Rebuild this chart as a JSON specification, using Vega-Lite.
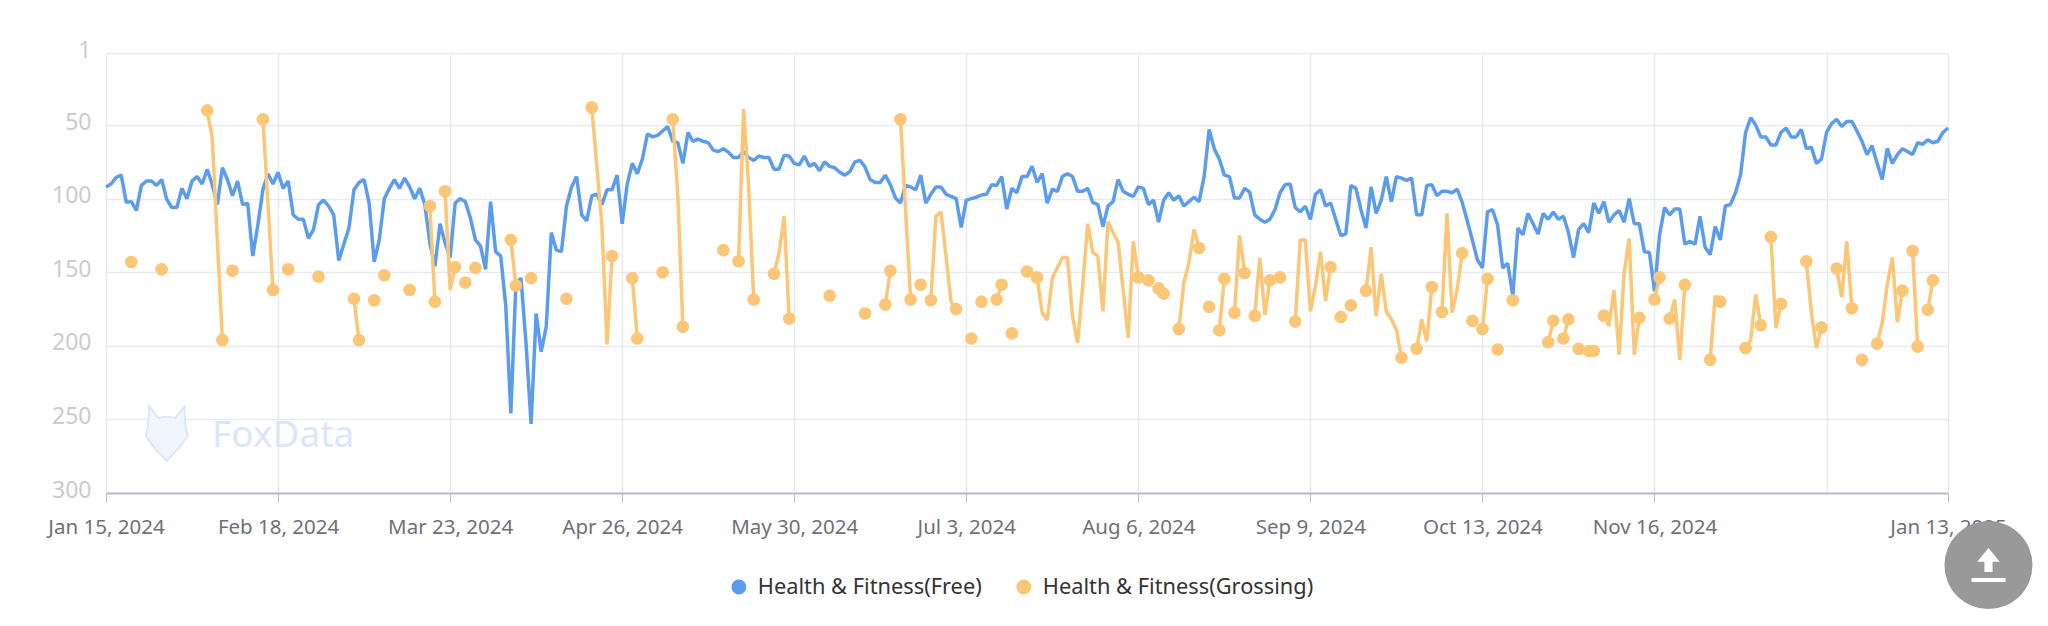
{"$schema":"https://vega.github.io/schema/vega-lite/v6.json","width":1842,"height":440,"autosize":{"type":"none"},"padding":{"left":106,"top":53,"right":100,"bottom":133},"background":"#ffffff","config":{"font":"Noto Sans","view":{"stroke":null}},"datasets":{"ranks":[
{"date":"2024-01-15","free":92},{"date":"2024-01-16","free":90},{"date":"2024-01-17","free":85.5},{"date":"2024-01-18","free":84},{"date":"2024-01-19","free":102.5},{"date":"2024-01-20","free":102,"grossing":143},{"date":"2024-01-21","free":108},{"date":"2024-01-22","free":91},{"date":"2024-01-23","free":88},{"date":"2024-01-24","free":88},{"date":"2024-01-25","free":91},{"date":"2024-01-26","free":87,"grossing":148},{"date":"2024-01-27","free":100.5},{"date":"2024-01-28","free":106},{"date":"2024-01-29","free":106},{"date":"2024-01-30","free":93},{"date":"2024-01-31","free":100},
{"date":"2024-02-01","free":88},{"date":"2024-02-02","free":85},{"date":"2024-02-03","free":90},{"date":"2024-02-04","free":80,"grossing":40},{"date":"2024-02-05","free":90.5,"grossing":59},{"date":"2024-02-06","free":104,"grossing":128},{"date":"2024-02-07","free":79,"grossing":196},{"date":"2024-02-08","free":87},{"date":"2024-02-09","free":98,"grossing":149},{"date":"2024-02-10","free":88},{"date":"2024-02-11","free":104},{"date":"2024-02-12","free":103},{"date":"2024-02-13","free":139},{"date":"2024-02-14","free":118},{"date":"2024-02-15","free":94,"grossing":46},{"date":"2024-02-16","free":83,"grossing":103},{"date":"2024-02-17","free":90,"grossing":162},{"date":"2024-02-18","free":82},{"date":"2024-02-19","free":93},{"date":"2024-02-20","free":88,"grossing":148},{"date":"2024-02-21","free":111},{"date":"2024-02-22","free":114},{"date":"2024-02-23","free":114},{"date":"2024-02-24","free":127},{"date":"2024-02-25","free":121},{"date":"2024-02-26","free":104,"grossing":153},{"date":"2024-02-27","free":101},{"date":"2024-02-28","free":105},{"date":"2024-02-29","free":111},
{"date":"2024-03-01","free":142},{"date":"2024-03-02","free":131},{"date":"2024-03-03","free":120},{"date":"2024-03-04","free":94,"grossing":168},{"date":"2024-03-05","free":89,"grossing":196},{"date":"2024-03-06","free":87},{"date":"2024-03-07","free":103},{"date":"2024-03-08","free":143,"grossing":169},{"date":"2024-03-09","free":128},{"date":"2024-03-10","free":100,"grossing":152},{"date":"2024-03-11","free":93},{"date":"2024-03-12","free":87},{"date":"2024-03-13","free":93},{"date":"2024-03-14","free":86},{"date":"2024-03-15","free":92,"grossing":162},{"date":"2024-03-16","free":100},{"date":"2024-03-17","free":93},{"date":"2024-03-18","free":104},{"date":"2024-03-19","free":130,"grossing":105},{"date":"2024-03-20","free":146,"grossing":170},{"date":"2024-03-21","free":117},{"date":"2024-03-22","free":130,"grossing":95},{"date":"2024-03-23","free":140,"grossing":162},{"date":"2024-03-24","free":103,"grossing":146.5},{"date":"2024-03-25","free":100},{"date":"2024-03-26","free":102,"grossing":157},{"date":"2024-03-27","free":113},{"date":"2024-03-28","free":128,"grossing":147},{"date":"2024-03-29","free":132},{"date":"2024-03-30","free":148},{"date":"2024-03-31","free":102},
{"date":"2024-04-01","free":136},{"date":"2024-04-02","free":139},{"date":"2024-04-03","free":173},{"date":"2024-04-04","free":246,"grossing":128},{"date":"2024-04-05","free":158,"grossing":159},{"date":"2024-04-06","free":154},{"date":"2024-04-07","free":198},{"date":"2024-04-08","free":253,"grossing":154},{"date":"2024-04-09","free":178},{"date":"2024-04-10","free":204},{"date":"2024-04-11","free":187},{"date":"2024-04-12","free":123},{"date":"2024-04-13","free":135},{"date":"2024-04-14","free":136},{"date":"2024-04-15","free":105,"grossing":168},{"date":"2024-04-16","free":92},{"date":"2024-04-17","free":85},{"date":"2024-04-18","free":111},{"date":"2024-04-19","free":115},{"date":"2024-04-20","free":98,"grossing":38},{"date":"2024-04-21","free":97,"grossing":78},{"date":"2024-04-22","free":104,"grossing":118},{"date":"2024-04-23","free":94,"grossing":199},{"date":"2024-04-24","free":94,"grossing":139},{"date":"2024-04-25","free":84},{"date":"2024-04-26","free":117},{"date":"2024-04-27","free":90},{"date":"2024-04-28","free":76,"grossing":154},{"date":"2024-04-29","free":83,"grossing":195},{"date":"2024-04-30","free":73},
{"date":"2024-05-01","free":56},{"date":"2024-05-02","free":58},{"date":"2024-05-03","free":57},{"date":"2024-05-04","free":54,"grossing":150},{"date":"2024-05-05","free":51},{"date":"2024-05-06","free":61,"grossing":46},{"date":"2024-05-07","free":62,"grossing":98},{"date":"2024-05-08","free":76,"grossing":187},{"date":"2024-05-09","free":55},{"date":"2024-05-10","free":61},{"date":"2024-05-11","free":59.5},{"date":"2024-05-12","free":61},{"date":"2024-05-13","free":62},{"date":"2024-05-14","free":67},{"date":"2024-05-15","free":68},{"date":"2024-05-16","free":66,"grossing":135},{"date":"2024-05-17","free":68.5},{"date":"2024-05-18","free":72},{"date":"2024-05-19","free":72,"grossing":142.5},{"date":"2024-05-20","free":68,"grossing":39},{"date":"2024-05-21","free":72,"grossing":92},{"date":"2024-05-22","free":74,"grossing":168.5},{"date":"2024-05-23","free":71},{"date":"2024-05-24","free":72},{"date":"2024-05-25","free":72},{"date":"2024-05-26","free":80,"grossing":151},{"date":"2024-05-27","free":80,"grossing":137},{"date":"2024-05-28","free":70.5,"grossing":112},{"date":"2024-05-29","free":71,"grossing":181.5},{"date":"2024-05-30","free":76},{"date":"2024-05-31","free":77},
{"date":"2024-06-01","free":71},{"date":"2024-06-02","free":78},{"date":"2024-06-03","free":76},{"date":"2024-06-04","free":81},{"date":"2024-06-05","free":75},{"date":"2024-06-06","free":78,"grossing":166},{"date":"2024-06-07","free":79},{"date":"2024-06-08","free":82},{"date":"2024-06-09","free":84},{"date":"2024-06-10","free":81.5},{"date":"2024-06-11","free":75},{"date":"2024-06-12","free":74},{"date":"2024-06-13","free":78.5,"grossing":178},{"date":"2024-06-14","free":87},{"date":"2024-06-15","free":89},{"date":"2024-06-16","free":89},{"date":"2024-06-17","free":84,"grossing":172},{"date":"2024-06-18","free":90.5,"grossing":149},{"date":"2024-06-19","free":99.5},{"date":"2024-06-20","free":103,"grossing":46},{"date":"2024-06-21","free":91,"grossing":107.5},{"date":"2024-06-22","free":92,"grossing":168.5},{"date":"2024-06-23","free":94},{"date":"2024-06-24","free":84,"grossing":158.5},{"date":"2024-06-25","free":103},{"date":"2024-06-26","free":97,"grossing":169},{"date":"2024-06-27","free":92,"grossing":112},{"date":"2024-06-28","free":92,"grossing":109},{"date":"2024-06-29","free":97,"grossing":139},{"date":"2024-06-30","free":98.5,"grossing":170},
{"date":"2024-07-01","free":100,"grossing":175},{"date":"2024-07-02","free":119.5},{"date":"2024-07-03","free":101},{"date":"2024-07-04","free":100,"grossing":195},{"date":"2024-07-05","free":99},{"date":"2024-07-06","free":97.5,"grossing":170},{"date":"2024-07-07","free":97},{"date":"2024-07-08","free":90.5},{"date":"2024-07-09","free":91,"grossing":168.5},{"date":"2024-07-10","free":85,"grossing":158.5},{"date":"2024-07-11","free":107},{"date":"2024-07-12","free":93,"grossing":191.5},{"date":"2024-07-13","free":96},{"date":"2024-07-14","free":85},{"date":"2024-07-15","free":85,"grossing":149.5},{"date":"2024-07-16","free":78},{"date":"2024-07-17","free":89,"grossing":153.5},{"date":"2024-07-18","free":83,"grossing":177.5},{"date":"2024-07-19","free":103,"grossing":182.5},{"date":"2024-07-20","free":93.5,"grossing":154},{"date":"2024-07-21","free":95,"grossing":147},{"date":"2024-07-22","free":85,"grossing":140},{"date":"2024-07-23","free":83,"grossing":140},{"date":"2024-07-24","free":85,"grossing":180},{"date":"2024-07-25","free":95,"grossing":198},{"date":"2024-07-26","free":95,"grossing":159.5},{"date":"2024-07-27","free":93,"grossing":117},{"date":"2024-07-28","free":102.5,"grossing":136.5},{"date":"2024-07-29","free":104,"grossing":139},{"date":"2024-07-30","free":119,"grossing":176.5},{"date":"2024-07-31","free":105,"grossing":115.5},
{"date":"2024-08-01","free":102,"grossing":123},{"date":"2024-08-02","free":87,"grossing":129.5},{"date":"2024-08-03","free":95,"grossing":162},{"date":"2024-08-04","free":97,"grossing":194.5},{"date":"2024-08-05","free":98.5,"grossing":129},{"date":"2024-08-06","free":92,"grossing":153.5},{"date":"2024-08-07","free":93},{"date":"2024-08-08","free":104,"grossing":155.5},{"date":"2024-08-09","free":101},{"date":"2024-08-10","free":116,"grossing":161},{"date":"2024-08-11","free":101,"grossing":164.5},{"date":"2024-08-12","free":96},{"date":"2024-08-13","free":101},{"date":"2024-08-14","free":98,"grossing":188.5},{"date":"2024-08-15","free":105,"grossing":157},{"date":"2024-08-16","free":102,"grossing":143.5},{"date":"2024-08-17","free":99,"grossing":121},{"date":"2024-08-18","free":102,"grossing":133.5},{"date":"2024-08-19","free":85},{"date":"2024-08-20","free":53,"grossing":173.5},{"date":"2024-08-21","free":66},{"date":"2024-08-22","free":73,"grossing":189.5},{"date":"2024-08-23","free":84,"grossing":154.5},{"date":"2024-08-24","free":85},{"date":"2024-08-25","free":99.5,"grossing":177.5},{"date":"2024-08-26","free":99.5,"grossing":125},{"date":"2024-08-27","free":93,"grossing":150.5},{"date":"2024-08-28","free":95.5},{"date":"2024-08-29","free":111,"grossing":179.5},{"date":"2024-08-30","free":114,"grossing":140},{"date":"2024-08-31","free":116,"grossing":179},
{"date":"2024-09-01","free":114,"grossing":155.5},{"date":"2024-09-02","free":107.5},{"date":"2024-09-03","free":96,"grossing":153.5},{"date":"2024-09-04","free":90.5},{"date":"2024-09-05","free":90},{"date":"2024-09-06","free":106,"grossing":183.5},{"date":"2024-09-07","free":109,"grossing":128},{"date":"2024-09-08","free":105,"grossing":128},{"date":"2024-09-09","free":114,"grossing":176.5},{"date":"2024-09-10","free":97,"grossing":159.5},{"date":"2024-09-11","free":94,"grossing":136},{"date":"2024-09-12","free":105,"grossing":169.5},{"date":"2024-09-13","free":103,"grossing":146.5},{"date":"2024-09-14","free":114},{"date":"2024-09-15","free":125,"grossing":180.5},{"date":"2024-09-16","free":124},{"date":"2024-09-17","free":91,"grossing":172.5},{"date":"2024-09-18","free":93},{"date":"2024-09-19","free":107.5},{"date":"2024-09-20","free":120,"grossing":162.5},{"date":"2024-09-21","free":92,"grossing":133},{"date":"2024-09-22","free":110,"grossing":180},{"date":"2024-09-23","free":101,"grossing":151},{"date":"2024-09-24","free":85,"grossing":176.5},{"date":"2024-09-25","free":102,"grossing":182},{"date":"2024-09-26","free":85,"grossing":189},{"date":"2024-09-27","free":86,"grossing":208},{"date":"2024-09-28","free":87.5},{"date":"2024-09-29","free":86},{"date":"2024-09-30","free":111,"grossing":202},
{"date":"2024-10-01","free":111,"grossing":182},{"date":"2024-10-02","free":91,"grossing":197},{"date":"2024-10-03","free":90.5,"grossing":160},{"date":"2024-10-04","free":98},{"date":"2024-10-05","free":95,"grossing":177},{"date":"2024-10-06","free":95,"grossing":110},{"date":"2024-10-07","free":96,"grossing":177.5},{"date":"2024-10-08","free":93.5,"grossing":162},{"date":"2024-10-09","free":102.5,"grossing":137},{"date":"2024-10-10","free":115},{"date":"2024-10-11","free":128,"grossing":183},{"date":"2024-10-12","free":141.5},{"date":"2024-10-13","free":147,"grossing":188.5},{"date":"2024-10-14","free":109,"grossing":154.5},{"date":"2024-10-15","free":107.5},{"date":"2024-10-16","free":118,"grossing":202.5},{"date":"2024-10-17","free":147},{"date":"2024-10-18","free":144},{"date":"2024-10-19","free":166,"grossing":169},{"date":"2024-10-20","free":120},{"date":"2024-10-21","free":124.5},{"date":"2024-10-22","free":110},{"date":"2024-10-23","free":117},{"date":"2024-10-24","free":124},{"date":"2024-10-25","free":110},{"date":"2024-10-26","free":114,"grossing":197.5},{"date":"2024-10-27","free":109,"grossing":183},{"date":"2024-10-28","free":114},{"date":"2024-10-29","free":112,"grossing":195},{"date":"2024-10-30","free":123,"grossing":182},{"date":"2024-10-31","free":140},
{"date":"2024-11-01","free":121,"grossing":202},{"date":"2024-11-02","free":117},{"date":"2024-11-03","free":123,"grossing":203.5},{"date":"2024-11-04","free":103,"grossing":203.5},{"date":"2024-11-05","free":110},{"date":"2024-11-06","free":102,"grossing":179.5},{"date":"2024-11-07","free":116,"grossing":186.5},{"date":"2024-11-08","free":111,"grossing":162},{"date":"2024-11-09","free":108,"grossing":206},{"date":"2024-11-10","free":116,"grossing":150.5},{"date":"2024-11-11","free":100,"grossing":127},{"date":"2024-11-12","free":117,"grossing":206},{"date":"2024-11-13","free":117,"grossing":181},{"date":"2024-11-14","free":136},{"date":"2024-11-15","free":136.5},{"date":"2024-11-16","free":163,"grossing":168.5},{"date":"2024-11-17","free":124.5,"grossing":153.5},{"date":"2024-11-18","free":106},{"date":"2024-11-19","free":111,"grossing":181.5},{"date":"2024-11-20","free":107,"grossing":168.5},{"date":"2024-11-21","free":107,"grossing":209.5},{"date":"2024-11-22","free":131,"grossing":158.5},{"date":"2024-11-23","free":129},{"date":"2024-11-24","free":131},{"date":"2024-11-25","free":112},{"date":"2024-11-26","free":133},{"date":"2024-11-27","free":138,"grossing":209.5},{"date":"2024-11-28","free":119,"grossing":166},{"date":"2024-11-29","free":128,"grossing":170},{"date":"2024-11-30","free":105},
{"date":"2024-12-01","free":104},{"date":"2024-12-02","free":96},{"date":"2024-12-03","free":84},{"date":"2024-12-04","free":55,"grossing":201.5},{"date":"2024-12-05","free":45,"grossing":196},{"date":"2024-12-06","free":50,"grossing":165},{"date":"2024-12-07","free":58,"grossing":186},{"date":"2024-12-08","free":58},{"date":"2024-12-09","free":63.5,"grossing":126},{"date":"2024-12-10","free":63.5,"grossing":188},{"date":"2024-12-11","free":55,"grossing":171.5},{"date":"2024-12-12","free":52},{"date":"2024-12-13","free":58},{"date":"2024-12-14","free":58},{"date":"2024-12-15","free":53},{"date":"2024-12-16","free":66,"grossing":142.5},{"date":"2024-12-17","free":65,"grossing":177.5},{"date":"2024-12-18","free":76,"grossing":201.5},{"date":"2024-12-19","free":73,"grossing":187.5},{"date":"2024-12-20","free":55},{"date":"2024-12-21","free":49},{"date":"2024-12-22","free":46,"grossing":147.5},{"date":"2024-12-23","free":51,"grossing":167},{"date":"2024-12-24","free":47.5,"grossing":129},{"date":"2024-12-25","free":47.5,"grossing":174.5},{"date":"2024-12-26","free":54},{"date":"2024-12-27","free":61,"grossing":209.5},{"date":"2024-12-28","free":70},{"date":"2024-12-29","free":64},{"date":"2024-12-30","free":76,"grossing":198.5},{"date":"2024-12-31","free":87,"grossing":184.5},
{"date":"2025-01-01","free":66,"grossing":158.5},{"date":"2025-01-02","free":76,"grossing":140},{"date":"2025-01-03","free":70,"grossing":184},{"date":"2025-01-04","free":66,"grossing":162.5},{"date":"2025-01-05","free":68},{"date":"2025-01-06","free":70,"grossing":135.5},{"date":"2025-01-07","free":62,"grossing":200.5},{"date":"2025-01-08","free":63},{"date":"2025-01-09","free":60,"grossing":175.5},{"date":"2025-01-10","free":62,"grossing":155.5},{"date":"2025-01-11","free":61},{"date":"2025-01-12","free":55},{"date":"2025-01-13","free":52}
]},
"layer":[
{"data":{"values":[{"date":"2024-01-27","rank":260}]},"mark":{"type":"point","shape":"M-0.42,-0.66 L-0.2,-0.38 Q0,-0.45 0.2,-0.38 L0.42,-0.66 L0.45,-0.15 L0.5,0.04 L0.3,0.32 L0,0.64 L-0.3,0.32 L-0.5,0.04 L-0.45,-0.15 Z","size":7056,"filled":true,"fill":"#f0f5fe","stroke":"#dbe6fb","strokeWidth":2,"opacity":1},"encoding":{"x":{"field":"date","type":"temporal"},"y":{"field":"rank","type":"quantitative"}}},
{"data":{"values":[{"date":"2024-02-19","rank":261,"label":"FoxData"}]},"mark":{"type":"text","fontSize":37,"color":"#dbe6fb","align":"center","baseline":"middle"},"encoding":{"x":{"field":"date","type":"temporal"},"y":{"field":"rank","type":"quantitative"},"text":{"field":"label"}}},
{"data":{"name":"ranks"},"mark":{"type":"line","strokeWidth":3.5,"strokeJoin":"bevel"},"encoding":{"x":{"field":"date","type":"temporal","scale":{"type":"utc","domain":["2024-01-15","2025-01-13"]},"title":null,"axis":{"values":["2024-01-15","2024-02-18","2024-03-23","2024-04-26","2024-05-30","2024-07-03","2024-08-06","2024-09-09","2024-10-13","2024-11-16","2024-12-20","2025-01-13"],"format":"%b %-d, %Y","labelExpr":"datum.label == 'Dec 20, 2024' ? '' : datum.label","labelFontSize":20.5,"labelColor":"#6e7079","labelOverlap":false,"labelFlush":false,"labelPadding":15,"labelAngle":0,"tickSize":9,"tickColor":"#b6bec9","tickWidth":1,"tickOpacity":{"condition":{"test":"utcmonth(datum.value) == 11","value":0},"value":1},"domainColor":"#b6bec9","domainWidth":2,"grid":true,"gridColor":"#e8eaef","gridWidth":1.5}},"y":{"field":"free","type":"quantitative","scale":{"domain":[1,300],"reverse":true,"nice":false,"zero":false},"title":null,"axis":{"values":[1,50,100,150,200,250,300],"labelFontSize":23,"labelColor":"#cccccc","labelPadding":15,"labelOffset":-3,"ticks":false,"domain":false,"grid":true,"gridColor":"#e8eaef","gridWidth":1.5}},"color":{"datum":"Health & Fitness(Free)","scale":{"domain":["Health & Fitness(Free)","Health & Fitness(Grossing)"],"range":["#5b9cee","#fcc677"]}}}},
{"data":{"name":"ranks"},"mark":{"type":"line","strokeWidth":3.5,"strokeJoin":"bevel"},"encoding":{"x":{"field":"date","type":"temporal"},"y":{"field":"grossing","type":"quantitative"},"color":{"datum":"Health & Fitness(Grossing)"}}},
{"data":{"name":"ranks"},"transform":[{"window":[{"op":"lag","field":"grossing","as":"prev"},{"op":"lead","field":"grossing","as":"next"}],"sort":[{"field":"date"}]},{"filter":"datum.grossing != null && (datum.prev == null || datum.next == null)"}],"mark":{"type":"circle","size":160,"opacity":1},"encoding":{"x":{"field":"date","type":"temporal"},"y":{"field":"grossing","type":"quantitative"},"color":{"datum":"Health & Fitness(Grossing)","legend":{"orient":"none","legendX":622,"legendY":523,"direction":"horizontal","title":null,"symbolType":"circle","symbolSize":180,"symbolOpacity":1,"labelFontSize":21.8,"labelColor":"#333333","labelLimit":400,"columnPadding":31,"labelOffset":8}}}},
{"data":{"values":[{"date":"2025-01-21","rank":349}]},"mark":{"type":"circle","size":7744,"color":"#999999","opacity":1},"encoding":{"x":{"field":"date","type":"temporal"},"y":{"field":"rank","type":"quantitative"}}},
{"data":{"values":[{"date":"2025-01-21","rank":349}]},"mark":{"type":"point","shape":"M0,-0.5 L0.33,-0.1 L0.12,-0.1 L0.12,0.2 L-0.12,0.2 L-0.12,-0.1 L-0.33,-0.1 Z M-0.5,0.38 H0.5 V0.5 H-0.5 Z","size":4624,"filled":true,"fill":"#ffffff","opacity":1},"encoding":{"x":{"field":"date","type":"temporal"},"y":{"field":"rank","type":"quantitative"}}}
]}
